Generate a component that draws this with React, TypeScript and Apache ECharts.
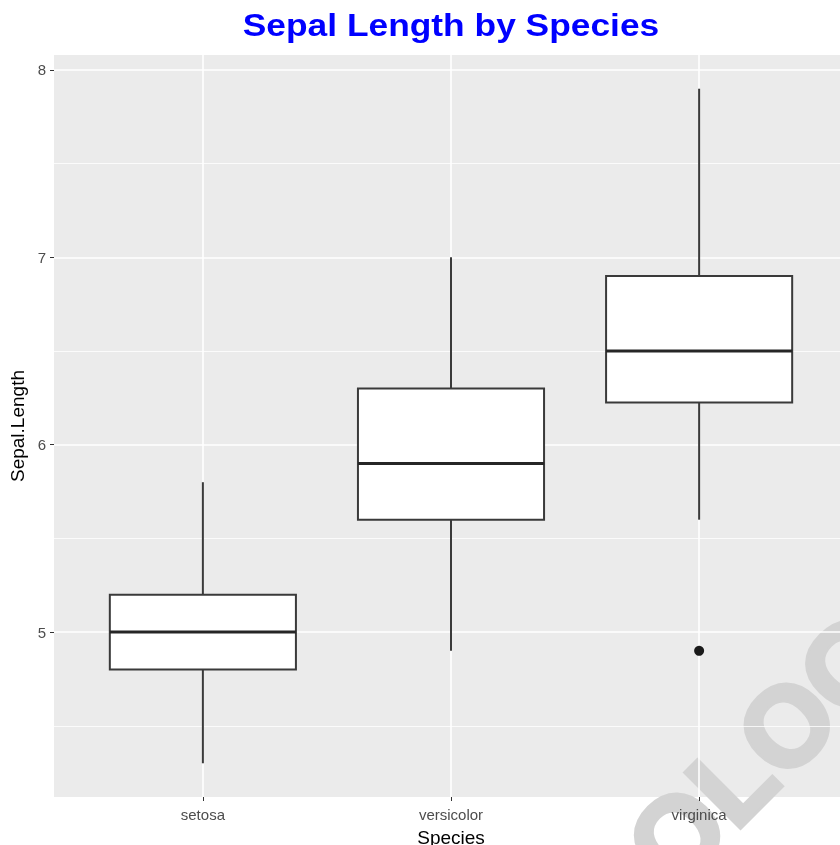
import React, { useEffect, useRef } from "react";
import * as echarts from "echarts";

const species = ["setosa", "versicolor", "virginica"];
const lowerWhisker = [4.3, 4.9, 5.6];
const q1 = [4.8, 5.6, 6.225];
const median = [5.0, 5.9, 6.5];
const q3 = [5.2, 6.3, 6.9];
const upperWhisker = [5.8, 7.0, 7.9];
const outlierSpecies = ["virginica"];
const outlierValues = [4.9];
const yMajorTicks = [5, 6, 7, 8];
const yMinorTicks = [4.5, 5.5, 6.5, 7.5];
const titleText = "Sepal Length by Species";
const xTitle = "Species";
const yTitle = "Sepal.Length";
const watermarkText = "OLOG";

const FONT = '"Liberation Sans", Arial, Helvetica, sans-serif';

export default function App() {
  const ref = useRef<HTMLDivElement>(null);
  useEffect(() => {
    if (!ref.current) return;
    const chart = echarts.init(ref.current, undefined, { renderer: "svg" });
    const xPos = species.map((_, i) => i + 1);
    const boxData = species.map((_, i) => [
      xPos[i],
      lowerWhisker[i],
      q1[i],
      median[i],
      q3[i],
      upperWhisker[i],
    ]);
    const outData = outlierSpecies.map((s, i) => [species.indexOf(s) + 1, outlierValues[i]]);
    const stroke = "#3a3a3a";

    chart.setOption({
      animation: false,
      grid: {
        left: 54,
        right: 0,
        top: 55,
        bottom: 48,
        show: true,
        backgroundColor: "#EBEBEB",
        borderWidth: 0,
        containLabel: false,
        outerBoundsMode: "none",
        z: 0,
      },
      xAxis: [
        {
          type: "value",
          z: 1,
          min: 0.4,
          max: 3.6,
          axisLine: { show: false },
          axisTick: {
            show: true,
            customValues: xPos,
            length: 4,
            lineStyle: { color: "#333333", width: 1 },
          },
          axisLabel: {
            customValues: xPos,
            formatter: (v: number) => species[Math.round(v) - 1] ?? "",
            color: "#4D4D4D",
            fontSize: 15,
            fontFamily: FONT,
            margin: 10,
          },
          splitLine: { show: true, lineStyle: { color: "#FFFFFF", width: 1.6 } },
          name: xTitle,
          nameLocation: "middle",
          nameGap: 31,
          nameTextStyle: { color: "#000000", fontSize: 19, fontFamily: FONT },
        },
      ],
      yAxis: [
        {
          type: "value",
          z: 1,
          min: 4.12,
          max: 8.08,
          axisLine: { show: false },
          axisTick: {
            show: true,
            customValues: yMajorTicks,
            length: 4,
            lineStyle: { color: "#333333", width: 1 },
          },
          axisLabel: {
            customValues: yMajorTicks,
            color: "#4D4D4D",
            fontSize: 15,
            fontFamily: FONT,
            margin: 8,
          },
          splitLine: { show: true, lineStyle: { color: "#FFFFFF", width: 1.6 } },
          name: yTitle,
          nameLocation: "middle",
          nameGap: 26,
          nameTextStyle: { color: "#000000", fontSize: 19, fontFamily: FONT },
        },
        {
          type: "value",
          z: 1,
          min: 4.12,
          max: 8.08,
          position: "right",
          axisLine: { show: false },
          axisTick: { show: false, customValues: yMinorTicks },
          axisLabel: { show: false, customValues: yMinorTicks },
          splitLine: { show: true, lineStyle: { color: "#FFFFFF", width: 0.8 } },
        },
      ],
      graphic: [
        {
          type: "text",
          x: 451,
          y: 9,
          z: 10,
          scaleX: 1.105,
          style: {
            text: titleText,
            align: "center",
            verticalAlign: "top",
            font: `bold 32px ${FONT}`,
            fill: "#0000FF",
          },
        },
        {
          type: "text",
          x: 763,
          y: 750,
          rotation: Math.PI / 4,
          z: 0.5,
          silent: true,
          style: {
            text: watermarkText,
            align: "center",
            verticalAlign: "middle",
            font: `bold 112px ${FONT}`,
            fill: "#D3D3D3",
            stroke: "#D3D3D3",
            lineWidth: 5,
          },
        },
      ],
      series: [
        {
          type: "custom",
          xAxisIndex: 0,
          yAxisIndex: 0,
          encode: { x: 0, y: [1, 2, 3, 4, 5] },
          data: boxData,
          z: 3,
          renderItem: (params: any, api: any) => {
            const x = api.value(0);
            const pLo = api.coord([x, api.value(1)]);
            const pA = api.coord([x, api.value(2)]);
            const pM = api.coord([x, api.value(3)]);
            const pB = api.coord([x, api.value(4)]);
            const pHi = api.coord([x, api.value(5)]);
            const w = api.size([0.75, 0])[0];
            const half = w / 2;
            return {
              type: "group",
              children: [
                {
                  type: "line",
                  shape: { x1: pLo[0], y1: pLo[1], x2: pA[0], y2: pA[1] },
                  style: { stroke, lineWidth: 2 },
                },
                {
                  type: "line",
                  shape: { x1: pB[0], y1: pB[1], x2: pHi[0], y2: pHi[1] },
                  style: { stroke, lineWidth: 2 },
                },
                {
                  type: "rect",
                  shape: { x: pB[0] - half, y: pB[1], width: w, height: pA[1] - pB[1] },
                  style: { fill: "#FFFFFF", stroke, lineWidth: 2 },
                },
                {
                  type: "line",
                  shape: { x1: pM[0] - half, y1: pM[1], x2: pM[0] + half, y2: pM[1] },
                  style: { stroke: "#262626", lineWidth: 3 },
                },
              ],
            };
          },
        },
        {
          type: "scatter",
          xAxisIndex: 0,
          yAxisIndex: 0,
          data: outData,
          symbol: "circle",
          symbolSize: 10,
          itemStyle: { color: "#1a1a1a", opacity: 1 },
          z: 4,
        },
      ],
    });
    return () => chart.dispose();
  }, []);
  return (
    <div
      ref={ref}
      style={{ position: "fixed", left: 0, top: 0, width: 848, height: 845 }}
    />
  );
}
